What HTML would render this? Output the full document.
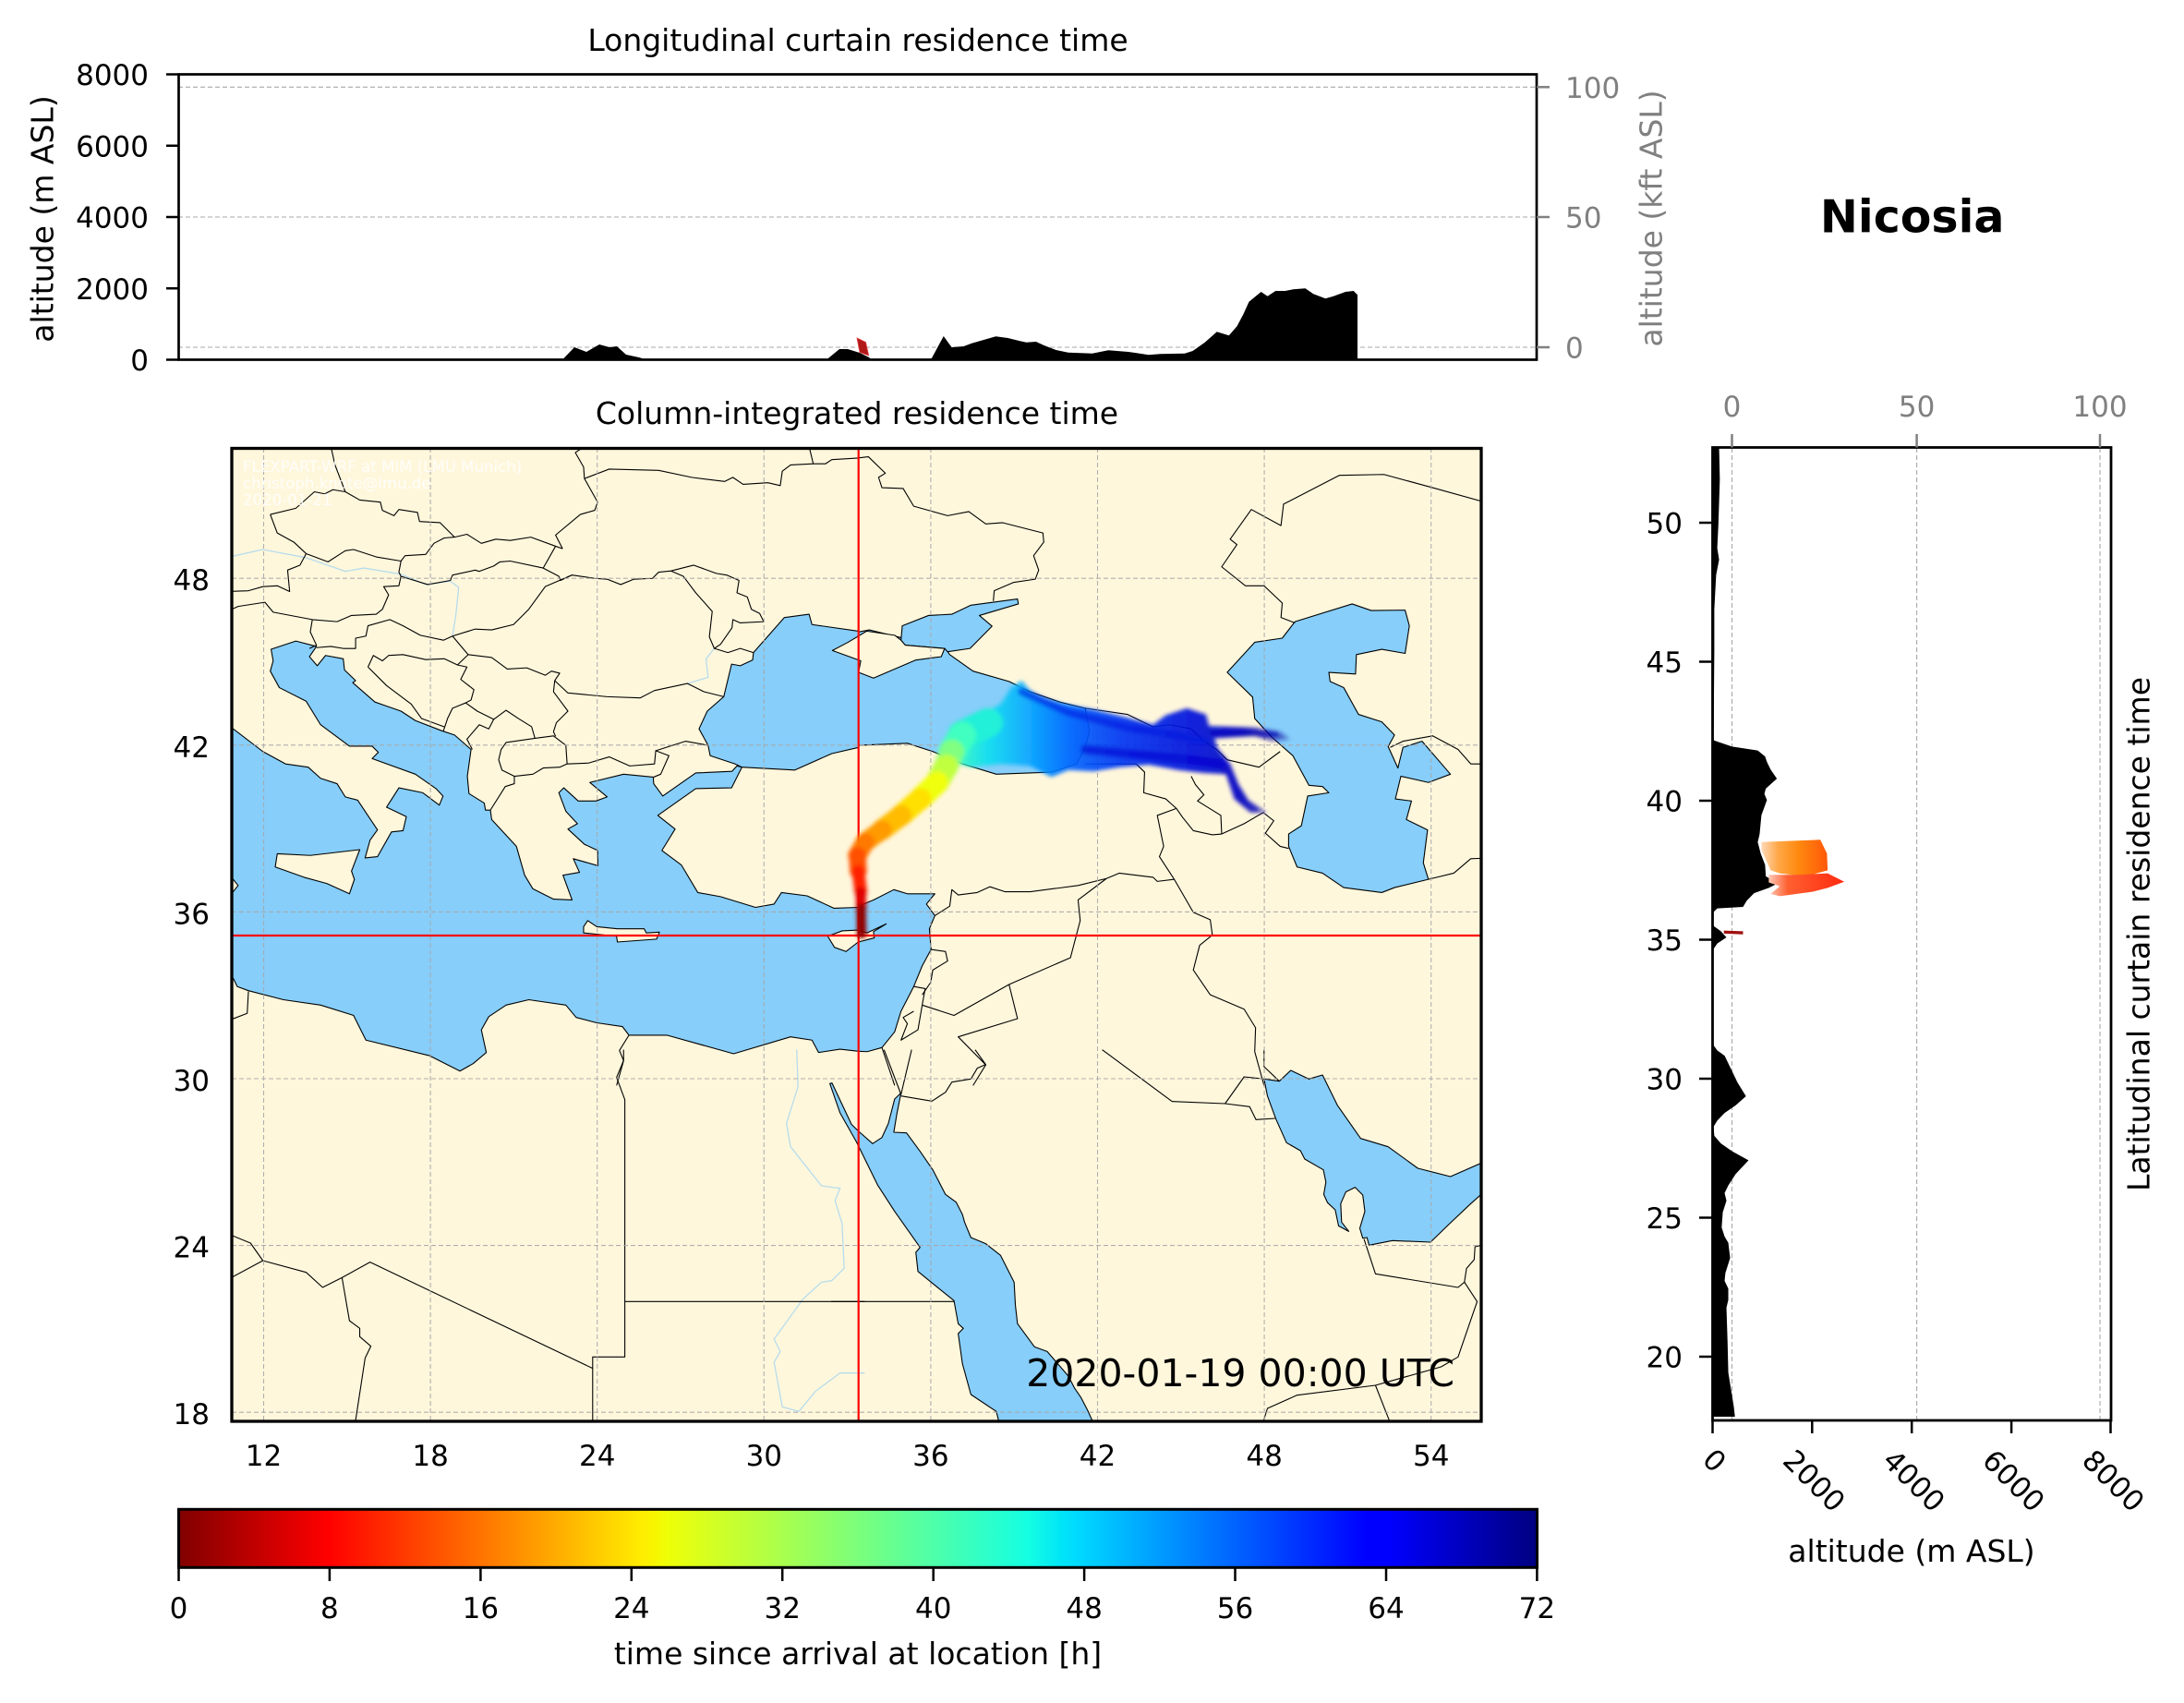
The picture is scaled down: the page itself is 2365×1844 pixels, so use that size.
<!DOCTYPE html>
<html><head><meta charset="utf-8"><style>
html,body{margin:0;padding:0;background:#fff;}
body{width:2365px;height:1839px;overflow:hidden;}
svg text{font-family:"DejaVu Sans","Liberation Sans",sans-serif;}
.s{fill:#87cefa;stroke:#000;stroke-width:1.1;vector-effect:non-scaling-stroke;stroke-linejoin:round;}
.l{fill:#fff7dc;stroke:#000;stroke-width:1.1;vector-effect:non-scaling-stroke;stroke-linejoin:round;}
.b{fill:none;stroke:#000;stroke-width:1.1;vector-effect:non-scaling-stroke;stroke-linejoin:round;}
.r{fill:none;stroke:#b6dcec;stroke-width:1.3;vector-effect:non-scaling-stroke;}
.g{stroke:#a8a8a8;stroke-width:1.1;stroke-dasharray:5,3;}
.t{font-size:31px;}
.lab{font-size:33px;}
</style></head><body>
<svg width="2365" height="1839" viewBox="0 0 2365 1839" xmlns="http://www.w3.org/2000/svg">
<defs>
<clipPath id="mc"><rect x="251" y="485.5" width="1353" height="1053.5"/></clipPath>
<clipPath id="rc"><rect x="1854" y="484.5" width="432" height="1053.5"/></clipPath>
<linearGradient id="jet" x1="0" x2="1" y1="0" y2="0">
<stop offset="0" stop-color="#800000"/><stop offset="0.09" stop-color="#e80000"/><stop offset="0.11" stop-color="#ff0000"/>
<stop offset="0.34" stop-color="#ffec00"/><stop offset="0.35" stop-color="#f7f500"/><stop offset="0.36" stop-color="#eeff08"/>
<stop offset="0.625" stop-color="#15ffe2"/><stop offset="0.65" stop-color="#00e5f7"/><stop offset="0.66" stop-color="#00dbff"/>
<stop offset="0.875" stop-color="#0000ff"/><stop offset="0.89" stop-color="#0000ff"/><stop offset="1" stop-color="#000080"/>
</linearGradient>
<linearGradient id="pb" gradientUnits="userSpaceOnUse" x1="290" y1="0" x2="1085" y2="0">
<stop offset="0" stop-color="#40ffb8"/><stop offset="0.1" stop-color="#10e0f0"/><stop offset="0.22" stop-color="#08a8ff"/>
<stop offset="0.35" stop-color="#0064ff"/><stop offset="0.5" stop-color="#0034f2"/><stop offset="0.7" stop-color="#0012dc"/>
<stop offset="0.86" stop-color="#0000c0"/><stop offset="1" stop-color="#2020a0" stop-opacity="0.5"/>
</linearGradient>
<linearGradient id="ro" gradientUnits="userSpaceOnUse" x1="420" y1="0" x2="600" y2="0">
<stop offset="0" stop-color="#ffd9b8"/><stop offset="0.25" stop-color="#ffa848"/><stop offset="0.55" stop-color="#ff8a10"/><stop offset="1" stop-color="#ff5808"/>
</linearGradient>
<linearGradient id="rr" gradientUnits="userSpaceOnUse" x1="440" y1="0" x2="645" y2="0">
<stop offset="0" stop-color="#ffc8b8"/><stop offset="0.25" stop-color="#ff6030"/><stop offset="1" stop-color="#ff2a10"/>
</linearGradient>
<filter id="bl" x="-10%" y="-10%" width="120%" height="120%"><feGaussianBlur stdDeviation="5"/></filter>
</defs>

<!-- ============ TOP AXES ============ -->
<text x="929" y="55" text-anchor="middle" class="lab">Longitudinal curtain residence time</text>
<g class="g">
<line x1="193" y1="94.3" x2="1664" y2="94.3"/><line x1="193" y1="235" x2="1664" y2="235"/><line x1="193" y1="376" x2="1664" y2="376"/>
</g>
<polygon fill="#000" points="609,389.5 622,376 635,381 649,373 660,376 668,375 678,384 692,387 700,389.5"/>
<polygon fill="#000" points="895,389.5 909,378 918,378 931,382 941,387 944,389.5"/>
<polygon fill="#000" points="1000,389.5 1008.7,388.3 1021.8,364 1030.5,376 1043.5,375 1052.2,371.7 1078.3,364.3 1091.4,366 1104.5,369.3 1111.4,370.7 1121.9,370 1130.6,374 1143.6,379 1156.7,381.7 1182.8,382.7 1200.2,379.3 1222,381 1230.7,382.3 1243.7,384.3 1256.8,383.3 1282.9,382.7 1291.6,380 1304.7,370.7 1317.7,359.3 1330.8,363.3 1339.5,353.3 1346.5,340 1352.5,326.7 1365.6,316 1372.6,320.7 1381.3,315 1391.7,315 1400.4,313.3 1413.5,312.3 1422.2,318.3 1435.3,323.3 1444,320.7 1457,316 1465.7,315 1470,319.3 1470,389.5"/>
<polygon fill="#b01818" stroke="#e04040" stroke-width="0.8" points="928,366 937.5,370.5 940.7,385 931,381.5"/>
<rect x="193.5" y="80.5" width="1470.5" height="309" fill="none" stroke="#000" stroke-width="2.7"/>
<g stroke="#000" stroke-width="2.5">
<line x1="180" y1="80.5" x2="193.5" y2="80.5"/><line x1="180" y1="157.75" x2="193.5" y2="157.75"/><line x1="180" y1="235" x2="193.5" y2="235"/><line x1="180" y1="312.25" x2="193.5" y2="312.25"/><line x1="180" y1="389.5" x2="193.5" y2="389.5"/>
</g>
<g class="t" text-anchor="end">
<text x="161" y="92">8000</text><text x="161" y="169.3">6000</text><text x="161" y="246.5">4000</text><text x="161" y="323.8">2000</text><text x="161" y="401">0</text>
</g>
<g stroke="#808080" stroke-width="2.5">
<line x1="1664" y1="94.3" x2="1678" y2="94.3"/><line x1="1664" y1="235" x2="1678" y2="235"/><line x1="1664" y1="376" x2="1678" y2="376"/>
</g>
<g class="t" fill="#808080">
<text x="1695" y="105.8">100</text><text x="1695" y="246.5">50</text><text x="1695" y="387.5">0</text>
</g>
<text class="lab" transform="translate(46,237) rotate(-90)" text-anchor="middle" dominant-baseline="central">altitude (m ASL)</text>
<text class="lab" fill="#808080" transform="translate(1788,236.5) rotate(-90)" text-anchor="middle" dominant-baseline="central">altitude (kft ASL)</text>

<text x="2070.7" y="251.7" text-anchor="middle" font-size="49" font-weight="bold">Nicosia</text>

<!-- ============ MAP ============ -->
<text x="928" y="459" text-anchor="middle" class="lab">Column-integrated residence time</text>
<g clip-path="url(#mc)">
<rect x="251" y="485.5" width="1353" height="1053.5" fill="#fff7dc"/>

<!-- Z3 region -->
<g transform="translate(240,470) scale(0.446429)">
<polygon class="s" points="10,715 28,715 100,770 155,800 210,808 240,835 280,848 300,880 330,888 378,960 360,985 348,1028 378,1025 412,965 440,962 448,928 400,905 430,858 488,870 528,900 537,878 520,860 470,825 365,787 380,772 365,757 310,757 240,705 205,648 140,615 118,575 125,550 120,522 180,502 230,515 213,540 232,562 252,537 295,545 298,572 325,598 318,603 372,650 435,672 470,695 535,720 565,730 605,765 596,830 600,872 637,895 640,912 652,912 655,935 715,1000 735,1070 755,1103 805,1128 850,1130 828,1070 868,1063 853,1030 913,1047 912,1010 880,995 840,958 863,945 835,915 818,870 830,858 865,890 908,890 935,880 893,845 975,825 1047,832 1048,848 1070,878 1150,822 1238,818 1250,805 1262,808 1237,858 1150,860 1058,925 1100,958 1068,1010 1115,1045 1155,1112 1210,1122 1295,1148 1340,1140 1358,1112 1420,1120 1485,1150 1545,1148 1545,1497 1500,1492 1448,1500 1432,1470 1380,1462 1242,1503 1080,1458 988,1458 972,1437 910,1428 860,1415 835,1385 745,1372 690,1385 648,1413 630,1445 642,1500 610,1527 578,1545 505,1508 350,1470 320,1410 240,1385 150,1372 65,1350 38,1340 28,1320 10,1320 10,1110 28,1110 40,1095 28,1080 10,1080"/>
<polygon class="s" points="1545,478 1432,462 1425,437 1365,445 1290,530 1288,548 1258,562 1237,558 1218,637 1178,672 1158,715 1180,755 1185,780 1245,800 1262,808 1390,815 1480,775 1545,760"/>
<polygon class="l" points="878,1195 888,1180 910,1195 960,1200 1025,1200 1030,1210 1062,1208 1055,1225 960,1232 958,1218 878,1210"/>
<polygon class="l" points="130,1050 135,1018 215,1022 335,1008 315,1060 322,1080 310,1115 255,1090 200,1075"/>
<polyline class="r" points="10,300 100,280 205,300 300,333 345,325 435,340 495,365 555,357 575,372 568,440 560,490"/>
<polyline class="r" points="1130,605 1180,590 1175,545 1195,520"/>
<polyline class="b" points="118,195 135,240 175,262 205,290 258,310 300,283 320,280 375,298 435,308"/>
<polyline class="b" points="118,195 180,180 225,140 250,145 270,135 300,140 335,160 385,165 390,185 418,198 430,183 475,190 480,212 530,215 565,250 595,243 630,265 665,255 700,258 750,250 810,272 827,278"/>
<polyline class="b" points="265,30 275,75 300,140"/>
<polyline class="b" points="827,278 810,245 870,195 905,185 912,165 880,108 878,80 858,45 880,30"/>
<polyline class="b" points="880,108 940,85 1060,88 1140,105 1220,115 1240,105 1265,122 1325,118 1355,125 1360,90 1380,75 1435,72 1465,72 1480,62 1545,58"/>
<polyline class="b" points="1425,30 1435,72"/>
<polyline class="b" points="435,308 445,295 495,292 515,265 540,252 565,250"/>
<polyline class="b" points="435,308 430,335 435,345 500,365 555,355 560,342 615,330 625,333 660,320 675,310 700,308 780,325 810,272"/>
<polyline class="b" points="780,325 818,345 822,355 850,342 905,350 935,352 968,365 1000,352 1045,350 1060,335 1090,332 1145,318 1200,338 1225,342 1255,355 1250,385 1275,395 1285,425 1305,435 1315,455 1258,458 1240,450 1238,470 1210,510 1195,520 1183,492 1190,430 1150,385 1120,345 1090,332"/>
<polyline class="b" points="1195,520 1228,530 1258,520 1290,530"/>
<polyline class="b" points="10,382 65,380 100,370 135,368 165,382 160,330 190,318 205,290"/>
<polyline class="b" points="10,432 40,418 105,408 125,432 220,450 280,455 315,440 375,437 390,425 405,390 393,370 430,368 435,345"/>
<polyline class="b" points="220,450 215,480 230,512 213,520"/>
<polyline class="b" points="230,518 265,515 295,520 325,520 325,495 350,490 355,465 408,450 440,465 482,488 538,500 560,490 615,473 655,475 708,462 745,425 785,370 850,342"/>
<polyline class="b" points="355,565 368,537 390,550 405,537 440,535 495,547 540,545 572,560 598,535 560,490"/>
<polyline class="b" points="355,565 400,610 460,655 485,690 540,710"/>
<polyline class="b" points="572,560 595,565 580,595 612,620 605,645 592,652 560,665 548,690 538,720"/>
<polyline class="b" points="598,535 655,542 693,570 740,567 785,585 800,575 820,580 808,598 805,625 840,672 812,700 805,722 810,733"/>
<polyline class="b" points="592,652 620,672 660,692 648,715 625,705 595,740 608,765"/>
<polyline class="b" points="660,692 690,670 720,690 752,710 760,738"/>
<polyline class="b" points="678,765 672,790 680,815 710,830 755,825 780,810 820,808 838,800 835,755 805,732 760,738 690,748 678,765"/>
<polyline class="b" points="652,912 688,855 710,848 710,830"/>
<polyline class="b" points="838,800 890,798 940,783 990,805 1050,800 1053,768 1085,780 1065,825 1048,832"/>
<polyline class="b" points="808,598 840,628 935,637 1015,640 1050,622 1130,605 1170,625 1218,637"/>
<polyline class="b" points="1053,768 1125,745 1180,755"/>
<polyline class="b" points="988,1458 965,1495 975,1520 958,1580"/>
<polyline class="b" points="10,1425 62,1405 65,1352"/>
</g>

<!-- Z5 region -->
<g transform="translate(240,1140) scale(0.446429,0.333333)">
<polyline class="r" points="1395,-10 1398,110 1370,230 1380,305 1455,432 1500,440 1488,480 1505,555 1510,700 1480,740 1455,745 1410,800 1340,930 1355,970 1340,1005 1360,1150 1400,1165 1440,1100 1500,1040 1560,1040"/>
<polyline class="b" points="975,-10 975,25 958,80 978,152 978,988 900,988 900,1220"/>
<polyline class="b" points="978,808 1560,808"/>
<polyline class="b" points="10,585 70,618 100,675 10,740"/>
<polyline class="b" points="100,675 205,713 245,762 292,730 360,680 900,1025"/>
<polyline class="b" points="292,730 310,870 335,895 335,922 362,953 348,992 322,1220"/>
</g>

<!-- Z4 region -->
<g transform="translate(900,470) scale(0.458716,0.446429)">
<polygon class="s" points="64.7,480 90,475 270,520 280,535 335,575 420,600 470,625 540,650 600,665 610,720 600,760 580,800 520,820 390,825 310,800 240,770 180,750 64.7,755"/>
<polygon class="s" points="168,465 230,440 285,437 330,415 440,400 442,412 350,440 380,466 328,520 275,528 268,520 175,512 165,500"/>
<polygon class="l" points="84,478 150,488 165,500 175,512 268,520 260,540 200,548 100,592 64.7,578 70,550 30,535 3,525 40,505"/>
<polygon class="s" points="935,578 1000,505 1065,495 1095,455 1230,412 1275,428 1355,427 1365,465 1355,532 1300,522 1240,535 1238,582 1175,578 1178,600 1210,615 1245,680 1300,698 1330,730 1315,758 1338,810 1350,760 1395,745 1462,825 1410,845 1345,830 1332,885 1370,890 1358,935 1408,960 1398,1040 1410,1080 1330,1100 1300,1112 1210,1100 1160,1065 1100,1050 1080,1000 1080,970 1110,950 1125,878 1175,870 1160,855 1128,852 1090,780 1040,735 1000,690 995,638"/>
<polygon class="s" points="64.7,1145 100,1130 148,1105 180,1115 245,1115 225,1140 245,1168 232,1200 236,1250 215,1290 195,1340 180,1370 165,1400 150,1450 120,1488 85,1498 64.7,1497"/>
<polygon class="l" points="-8,1218 26,1205 64,1203 85,1210 130,1188 100,1207 102,1222 64,1232 35,1255 8,1245"/>
<polyline class="b" points="62,58 88,55 128,95 112,105 120,130 170,132 195,175 275,198 325,188 365,218 405,215 500,240 502,262 478,295 490,330 482,352 430,360 385,380 383,405"/>
<polyline class="b" points="1560,170 1420,130 1305,98 1200,100 1068,170 1062,222 992,183 942,255 958,268 922,322 978,368 1022,368 1065,410 1062,445 1095,458"/>
<polyline class="b" points="600,665 700,680 760,710 800,705 850,715 880,745 910,765 935,790 1010,808 1060,770"/>
<polyline class="b" points="600,800 720,800 740,820 738,870 790,885 815,908"/>
<polyline class="b" points="815,908 770,925 785,1000 775,1025 810,1080"/>
<polyline class="b" points="815,908 830,930 855,962 900,972 922,970"/>
<polyline class="b" points="850,830 860,850 880,875 865,890 920,925 922,970"/>
<polyline class="b" points="922,970 975,945 1020,918 1045,938 1025,968 1060,1000 1080,1005"/>
<polyline class="b" points="245,1168 280,1145 285,1105 300,1118 345,1112 375,1098 410,1110 470,1110 583,1095 650,1078 680,1065 760,1075 770,1085 810,1080"/>
<polyline class="b" points="810,1080 855,1160 895,1178 900,1215 870,1240 855,1300 895,1360 975,1395 1002,1440 1000,1498 1022,1580"/>
<polyline class="b" points="650,1078 583,1130 588,1180 565,1270 420,1335 290,1410 215,1385"/>
<polyline class="b" points="420,1335 440,1418 300,1462 365,1530 335,1580"/>
<polyline class="b" points="236,1250 270,1255 275,1278 240,1300 235,1330 215,1360"/>
<polyline class="b" points="195,1340 222,1345 215,1385 205,1445 165,1470 180,1430 170,1415 195,1400"/>
<polyline class="b" points="120,1488 150,1580"/>
<polyline class="b" points="1320,760 1350,745 1420,732 1480,765 1510,800 1560,800"/>
<polyline class="b" points="1410,1080 1470,1065 1510,1030 1560,1028"/>
</g>

<!-- Z6 region -->
<g transform="translate(900,1140) scale(0.458716,0.333333)">
<polygon class="s" points="-3,100 21,195 60,290 110,430 150,515 210,632 200,648 205,710 245,755 290,805 300,880 312,895 300,912 310,1010 330,1110 390,1165 400,1220 625,1220 605,1160 590,1120 575,1090 560,1050 510,970 480,955 440,880 435,820 432,745 400,658 365,620 330,600 315,550 310,525 295,485 270,460 240,380 210,320 178,260 148,258 155,200 165,130 150,150 135,230 120,275 98,295 65,255 48,232 2,98"/>
<polygon class="s" points="1022,85 1030,140 1050,215 1075,292 1108,318 1118,345 1162,380 1168,420 1163,460 1172,487 1190,510 1198,562 1222,580 1205,550 1203,490 1215,452 1237,437 1255,462 1260,515 1248,570 1255,602 1265,600 1270,625 1325,610 1415,615 1460,555 1510,490 1545,447 1545,352 1462,402 1385,375 1315,305 1250,278 1195,170 1160,72 1128,85 1085,57 1058,92"/>
<polyline class="b" points="0,808 290,808"/>
<polyline class="b" points="125,-10 165,135 190,-10"/>
<polyline class="b" points="165,140 238,157 270,128 285,95 330,85 345,50 365,38 340,-10"/>
<polyline class="b" points="640,-10 805,158 930,165 988,175 1003,217 1048,213"/>
<polyline class="b" points="930,165 975,78 1022,85"/>
<polyline class="b" points="1022,-10 1022,45 1058,92"/>
<polyline class="b" points="1258,605 1285,718 1480,762 1495,745 1500,700 1518,672 1520,630 1545,622"/>
<polyline class="b" points="1495,745 1525,808 1480,988 1440,1020 1285,1080 1100,1112 1030,1155 1015,1220"/>
<polyline class="b" points="1285,1080 1325,1220"/>
</g>

<!-- gridlines -->
<g class="g" opacity="0.9">
<line x1="285.5" y1="485" x2="285.5" y2="1540"/><line x1="466.1" y1="485" x2="466.1" y2="1540"/><line x1="646.7" y1="485" x2="646.7" y2="1540"/><line x1="827.3" y1="485" x2="827.3" y2="1540"/><line x1="1007.9" y1="485" x2="1007.9" y2="1540"/><line x1="1188.5" y1="485" x2="1188.5" y2="1540"/><line x1="1369.1" y1="485" x2="1369.1" y2="1540"/><line x1="1549.7" y1="485" x2="1549.7" y2="1540"/>
<line x1="251" y1="626.2" x2="1604" y2="626.2"/><line x1="251" y1="806.8" x2="1604" y2="806.8"/><line x1="251" y1="987.4" x2="1604" y2="987.4"/><line x1="251" y1="1168" x2="1604" y2="1168"/><line x1="251" y1="1348.6" x2="1604" y2="1348.6"/><line x1="251" y1="1529.2" x2="1604" y2="1529.2"/>
</g>

<!-- red crosshair -->
<line x1="929.7" y1="485" x2="929.7" y2="1540" stroke="#ff0000" stroke-width="2.2"/>
<line x1="251" y1="1013" x2="1604" y2="1013" stroke="#ff0000" stroke-width="2.2"/>

<!-- plume -->
<g transform="translate(900,470) scale(0.458716,0.446429)">
<g filter="url(#bl)">
<polygon fill="url(#pb)" opacity="0.92" points="290,770 300,725 340,688 400,655 425,615 450,598 468,620 500,640 550,655 620,668 700,688 760,705 790,682 840,665 885,680 892,708 1000,712 1060,722 1082,740 1040,745 1000,732 905,738 912,762 942,800 962,850 985,888 1028,918 990,918 952,885 932,825 880,822 820,815 750,802 680,808 620,818 560,815 520,832 470,805 400,800 330,808 300,800"/>
<polyline fill="none" stroke="#0018e0" stroke-width="18" stroke-linecap="round" opacity="0.6" points="450,625 560,675 700,712 800,728 880,745"/>
<polyline fill="none" stroke="#0000d0" stroke-width="22" stroke-linecap="round" opacity="0.6" points="600,765 700,775 850,790 920,800"/>
<polyline fill="none" stroke="#0000b0" stroke-width="12" stroke-linecap="round" opacity="0.5" points="900,725 1050,728"/>
<g fill="none" stroke-linecap="round">
<line x1="310" y1="730" x2="370" y2="700" stroke="#20f0d8" stroke-width="70"/>
<line x1="285" y1="770" x2="310" y2="730" stroke="#40ffc0" stroke-width="64"/>
<line x1="272" y1="805" x2="285" y2="770" stroke="#80ff80" stroke-width="58"/>
<line x1="250" y1="845" x2="272" y2="805" stroke="#c0ff40" stroke-width="56"/>
<line x1="210" y1="885" x2="250" y2="845" stroke="#f0ff10" stroke-width="54"/>
<line x1="165" y1="925" x2="210" y2="885" stroke="#ffe000" stroke-width="52"/>
<line x1="120" y1="960" x2="165" y2="925" stroke="#ffbc00" stroke-width="50"/>
<line x1="80" y1="990" x2="120" y2="960" stroke="#ff9a00" stroke-width="46"/>
<line x1="62" y1="1022" x2="80" y2="990" stroke="#ff7800" stroke-width="44"/>
<line x1="64" y1="1060" x2="62" y2="1022" stroke="#ff5000" stroke-width="40"/>
<line x1="70" y1="1110" x2="64" y2="1060" stroke="#ff2400" stroke-width="30"/>
<line x1="71" y1="1150" x2="70" y2="1110" stroke="#e00000" stroke-width="24"/>
<line x1="72" y1="1212" x2="71" y2="1150" stroke="#900000" stroke-width="22"/>
</g>
</g>
</g>

<!-- watermark -->
<g fill="#ffffff" opacity="0.85" font-size="16.6">
<text x="263" y="511">FLEXPART-WRF at MIM (LMU Munich)</text>
<text x="263" y="529">christoph.knote@lmu.de</text>
<text x="263" y="547">2020-01-21</text>
</g>
<text x="1575" y="1501" text-anchor="end" font-size="41">2020-01-19 00:00 UTC</text>
</g>
<rect x="251" y="485.5" width="1353" height="1053.5" fill="none" stroke="#000" stroke-width="3.3"/>

<!-- map tick labels -->
<g class="t" text-anchor="end">
<text x="227" y="639.2">48</text><text x="227" y="819.8">42</text><text x="227" y="1000.4">36</text><text x="227" y="1181">30</text><text x="227" y="1361.6">24</text><text x="227" y="1542.2">18</text>
</g>
<g class="t" text-anchor="middle">
<text x="285.5" y="1587">12</text><text x="466.1" y="1587">18</text><text x="646.7" y="1587">24</text><text x="827.3" y="1587">30</text><text x="1007.9" y="1587">36</text><text x="1188.5" y="1587">42</text><text x="1369.1" y="1587">48</text><text x="1549.7" y="1587">54</text>
</g>

<!-- ============ RIGHT PANEL ============ -->
<g class="g">
<line x1="1875.5" y1="485" x2="1875.5" y2="1538"/><line x1="2075.6" y1="485" x2="2075.6" y2="1538"/><line x1="2274" y1="485" x2="2274" y2="1538"/>
</g>
<g clip-path="url(#rc)">
<g transform="translate(1740,420) scale(0.39857,0.82645)">
<polygon fill="#000" points="280,78 305,78 307,120 303,180 300,210 305,225 297,245 292,290 292,345 290,460 292,462 340,470 410,475 430,483 435,490 445,500 462,512 432,525 428,532 435,540 420,560 415,585 410,595 418,610 430,625 432,640 450,645 470,648 440,655 400,662 380,672 370,680 300,682 287,688 290,705 310,712 325,720 300,728 290,735 288,860 300,868 320,875 340,895 355,910 378,928 350,940 320,950 300,960 290,968 292,980 310,990 340,1000 385,1012 350,1030 330,1045 320,1055 325,1065 315,1080 312,1100 320,1112 330,1120 335,1140 322,1160 320,1170 330,1180 330,1195 325,1205 328,1250 330,1290 340,1320 345,1335 348,1348 280,1348"/>
<polygon fill="url(#ro)" points="420,595 580,592 598,610 600,632 540,640 470,636 445,632 432,618 420,605"/>
<polygon fill="url(#rr)" points="440,638 520,638 600,636 645,647 600,655 560,660 470,666 445,663 470,653 440,648"/>
<polygon fill="#a01010" points="318,711 370,712 370,716 318,715"/>
</g>
</g>
<rect x="1854.5" y="484.5" width="431.5" height="1053.5" fill="none" stroke="#000" stroke-width="2.8"/>
<g stroke="#000" stroke-width="2.5">
<line x1="1840" y1="566" x2="1854" y2="566"/><line x1="1840" y1="716.5" x2="1854" y2="716.5"/><line x1="1840" y1="867" x2="1854" y2="867"/><line x1="1840" y1="1017.5" x2="1854" y2="1017.5"/><line x1="1840" y1="1168" x2="1854" y2="1168"/><line x1="1840" y1="1318.5" x2="1854" y2="1318.5"/><line x1="1840" y1="1469" x2="1854" y2="1469"/>
<line x1="1854.5" y1="1538" x2="1854.5" y2="1552"/><line x1="1962.3" y1="1538" x2="1962.3" y2="1552"/><line x1="2070.2" y1="1538" x2="2070.2" y2="1552"/><line x1="2178.1" y1="1538" x2="2178.1" y2="1552"/><line x1="2285.5" y1="1538" x2="2285.5" y2="1552"/>
</g>
<g stroke="#808080" stroke-width="2.5">
<line x1="1875.5" y1="470" x2="1875.5" y2="484.5"/><line x1="2075.6" y1="470" x2="2075.6" y2="484.5"/><line x1="2274" y1="470" x2="2274" y2="484.5"/>
</g>
<g class="t" text-anchor="end">
<text x="1822" y="577.5">50</text><text x="1822" y="728">45</text><text x="1822" y="878.5">40</text><text x="1822" y="1029">35</text><text x="1822" y="1179.5">30</text><text x="1822" y="1330">25</text><text x="1822" y="1480.5">20</text>
</g>
<g class="t" text-anchor="middle" fill="#808080">
<text x="1875.5" y="451">0</text><text x="2075.6" y="451">50</text><text x="2274" y="451">100</text>
</g>
<g class="t" text-anchor="middle" dominant-baseline="central">
<text transform="translate(1856,1582) rotate(45)">0</text>
<text transform="translate(1964,1604) rotate(45)">2000</text>
<text transform="translate(2072,1604) rotate(45)">4000</text>
<text transform="translate(2180,1604) rotate(45)">6000</text>
<text transform="translate(2288,1604) rotate(45)">8000</text>
</g>
<text x="2070" y="1691" text-anchor="middle" class="lab">altitude (m ASL)</text>
<text class="lab" transform="translate(2316,1011.5) rotate(-90)" text-anchor="middle" dominant-baseline="central">Latitudinal curtain residence time</text>

<!-- ============ COLORBAR ============ -->
<rect x="193.5" y="1634.3" width="1471" height="63" fill="url(#jet)" stroke="#000" stroke-width="3"/>
<g stroke="#000" stroke-width="2.5">
<line x1="193.5" y1="1697" x2="193.5" y2="1712"/><line x1="356.9" y1="1697" x2="356.9" y2="1712"/><line x1="520.4" y1="1697" x2="520.4" y2="1712"/><line x1="683.8" y1="1697" x2="683.8" y2="1712"/><line x1="847.2" y1="1697" x2="847.2" y2="1712"/><line x1="1010.7" y1="1697" x2="1010.7" y2="1712"/><line x1="1174.1" y1="1697" x2="1174.1" y2="1712"/><line x1="1337.5" y1="1697" x2="1337.5" y2="1712"/><line x1="1501" y1="1697" x2="1501" y2="1712"/><line x1="1664.4" y1="1697" x2="1664.4" y2="1712"/>
</g>
<g class="t" text-anchor="middle">
<text x="193.5" y="1752">0</text><text x="356.9" y="1752">8</text><text x="520.4" y="1752">16</text><text x="683.8" y="1752">24</text><text x="847.2" y="1752">32</text><text x="1010.7" y="1752">40</text><text x="1174.1" y="1752">48</text><text x="1337.5" y="1752">56</text><text x="1501" y="1752">64</text><text x="1664.4" y="1752">72</text>
</g>
<text x="929" y="1802" text-anchor="middle" class="lab">time since arrival at location [h]</text>
</svg>
</body></html>
